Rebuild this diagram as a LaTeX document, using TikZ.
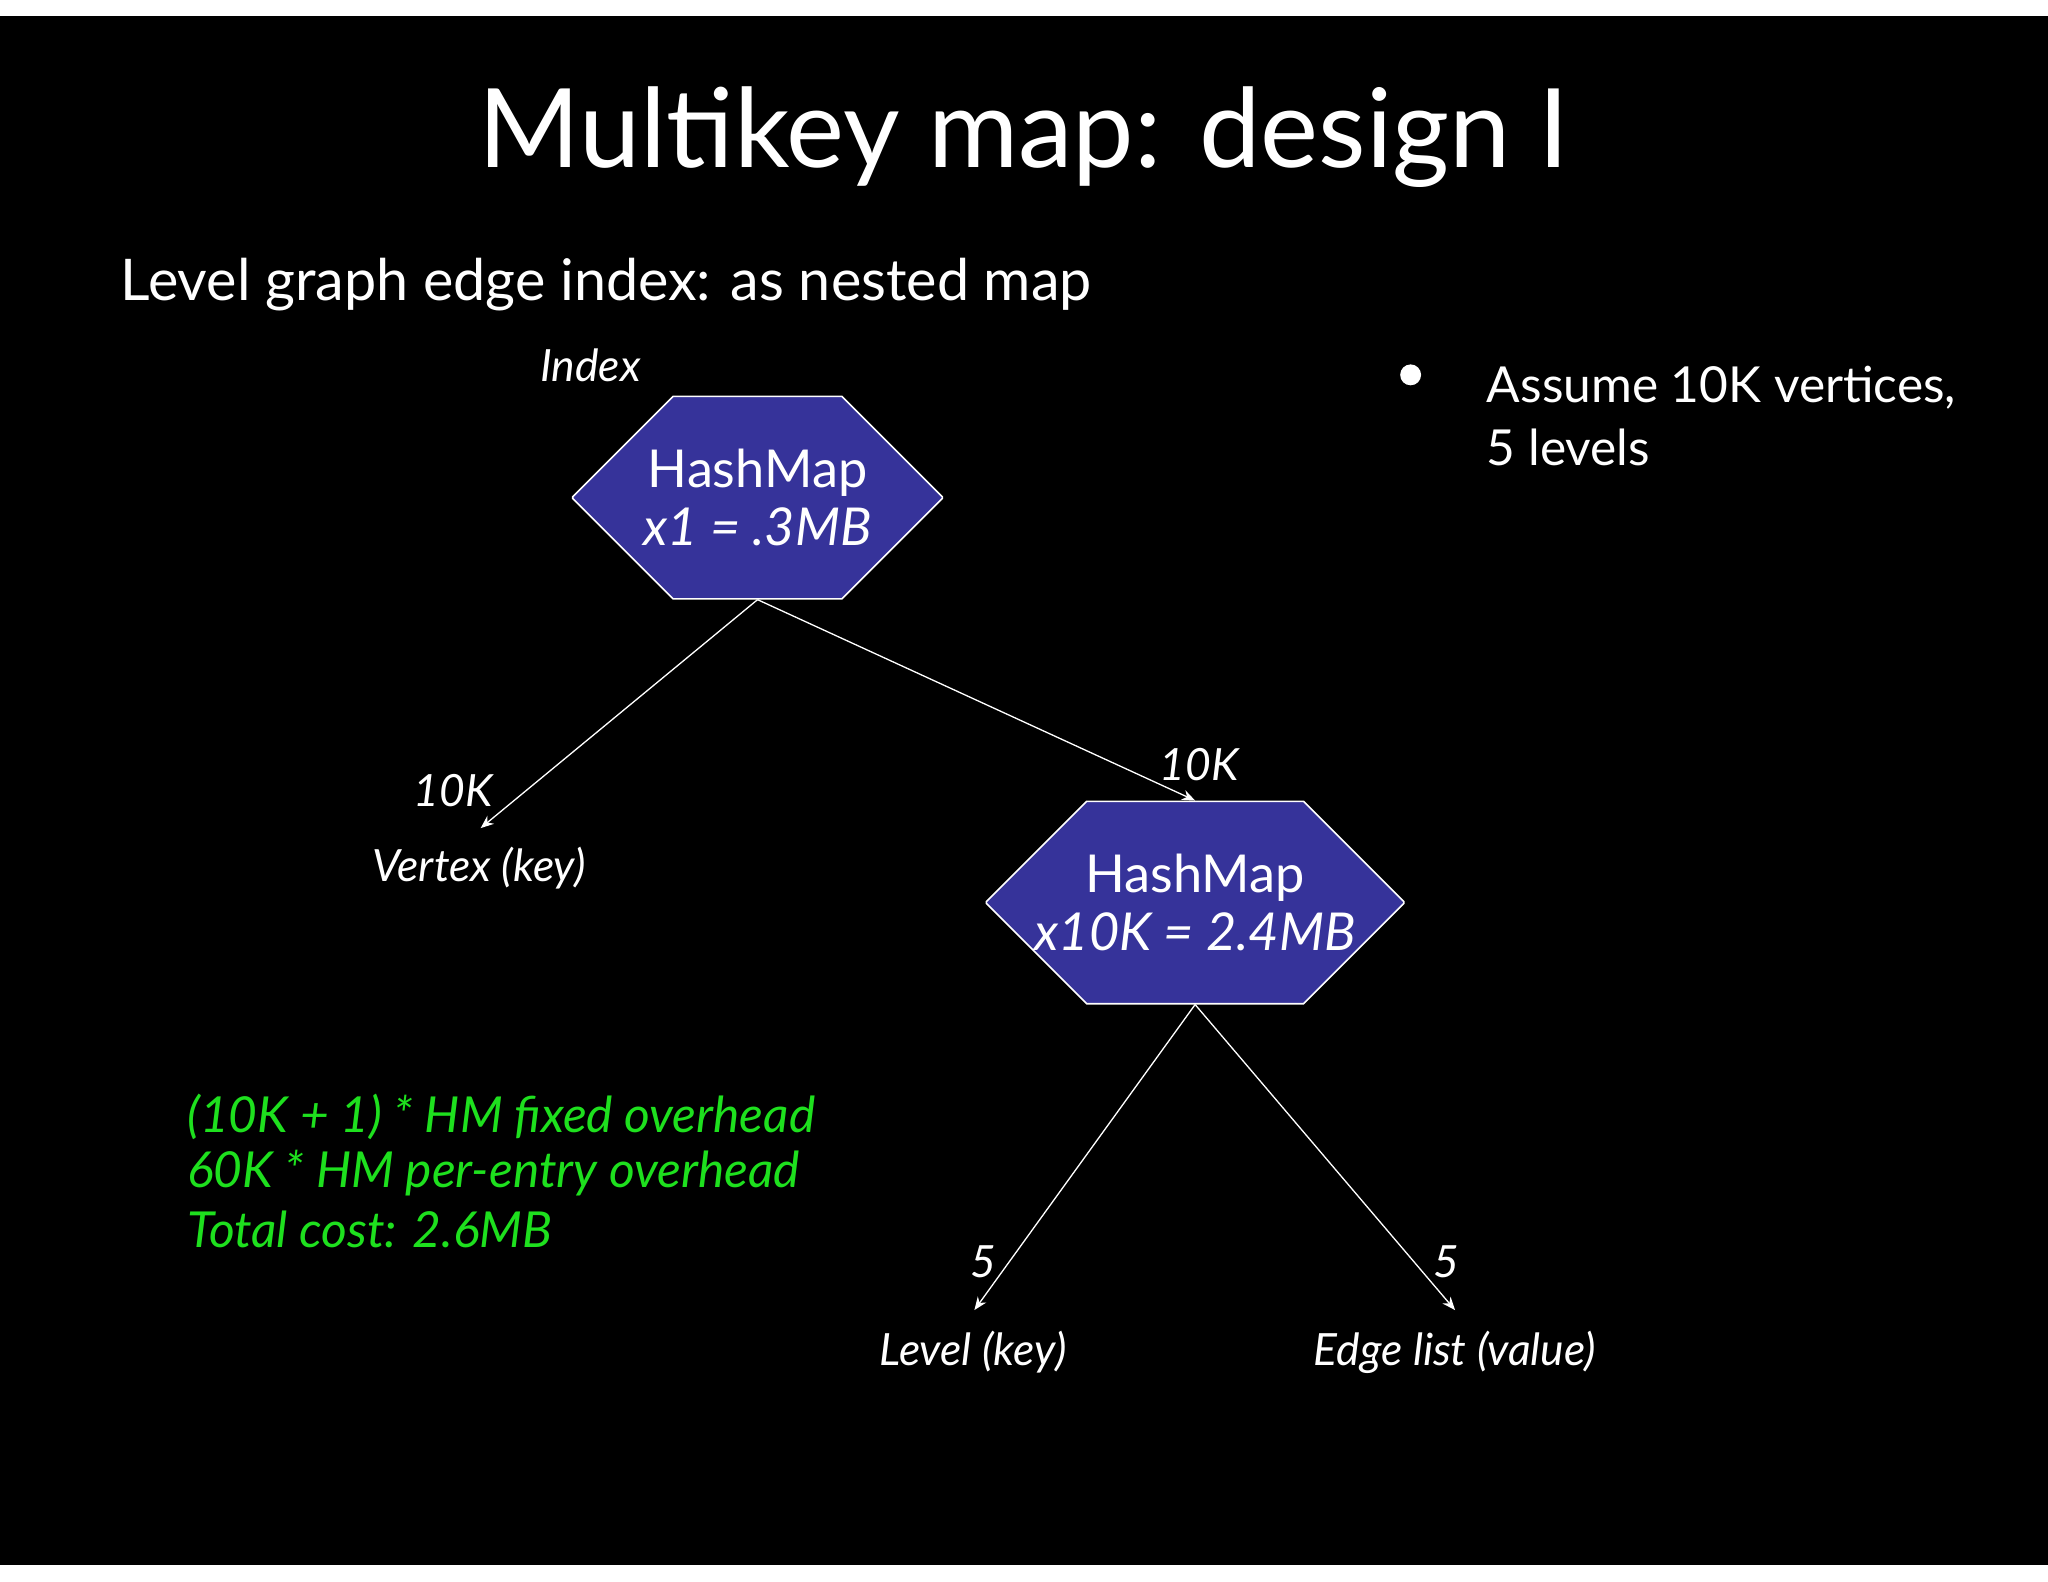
\documentclass[tikz,border=0pt]{standalone}
\usepackage{fontspec}
\setmainfont{Lato}
\usetikzlibrary{shapes.misc,arrows.meta}
\definecolor{hmblue}{HTML}{36339A}
\definecolor{grn}{HTML}{1EE01E}
\begin{document}
\begin{tikzpicture}[x=0.5pt,y=-0.5pt,
  hm/.style={chamfered rectangle,chamfered rectangle xsep=20pt,chamfered rectangle ysep=20pt,draw=white,line width=0.6pt,fill=hmblue,minimum width=141.5pt,minimum height=77.5pt,inner sep=0pt,text=white,align=center,font=\fontsize{20}{24}\selectfont},
  lbl/.style={text=white,font=\itshape\fontsize{17}{20}\selectfont,inner sep=0pt},
  edge/.style={draw=white,line width=0.5pt,-{Stealth[length=5pt,width=4pt]}},
  grt/.style={text=grn,font=\itshape\fontsize{19}{23}\selectfont,anchor=west,inner sep=0pt}]
\useasboundingbox (0,0) rectangle (1568,1211);
\fill[white] (0,0) rectangle (1568,1211);
\fill[black] (0,12) rectangle (1568,1198);
\node[text=white,font=\fontsize{42}{48}\selectfont] (title) at (784,105) {Multikey map: design I};
\node[text=white,font=\fontsize{22}{26}\selectfont,anchor=west,inner sep=0pt] (sub) at (92,218) {Level graph edge index: as nested map};
\node[lbl] (idx) at (452,280) {Index};
\node[hm] (h1) at (580,381) {HashMap\\[-2pt]\textit{x1 = .3MB}};
\node[hm] (h2) at (915,691) {HashMap\\[-2pt]\textit{x10K = 2.4MB}};
\coordinate (v) at (368,634);
\coordinate (lv) at (746,1003);
\coordinate (el) at (1114,1003);
\node[lbl] (vk) at (367,665) {Vertex (key)};
\node[lbl] (lk) at (745,1035) {Level (key)};
\node[lbl] (ek) at (1114,1035) {Edge list (value)};
\node[lbl] (n1) at (347,605) {10K};
\node[lbl] (n2) at (918,585) {10K};
\node[lbl] (n3) at (753,966) {5};
\node[lbl] (n4) at (1107,966) {5};
\draw[edge] (h1.south) -- (v);
\draw[edge] (h1.south) -- (h2.north);
\draw[edge] (h2.south) -- (lv);
\draw[edge] (h2.south) -- (el);
\fill[white] (1080,287) circle (8);
\node[text=white,font=\fontsize{19}{24}\selectfont,anchor=north west,align=left,inner sep=0pt] (bul) at (1138,280) {Assume 10K vertices,\\5 levels};
\node[grt] (g1) at (143,855) {(10K + 1) * HM fixed overhead};
\node[grt] (g2) at (143,898) {60K * HM per-entry overhead};
\node[grt] (g3) at (143,941) {Total cost: 2.6MB};
\end{tikzpicture}
\end{document}
